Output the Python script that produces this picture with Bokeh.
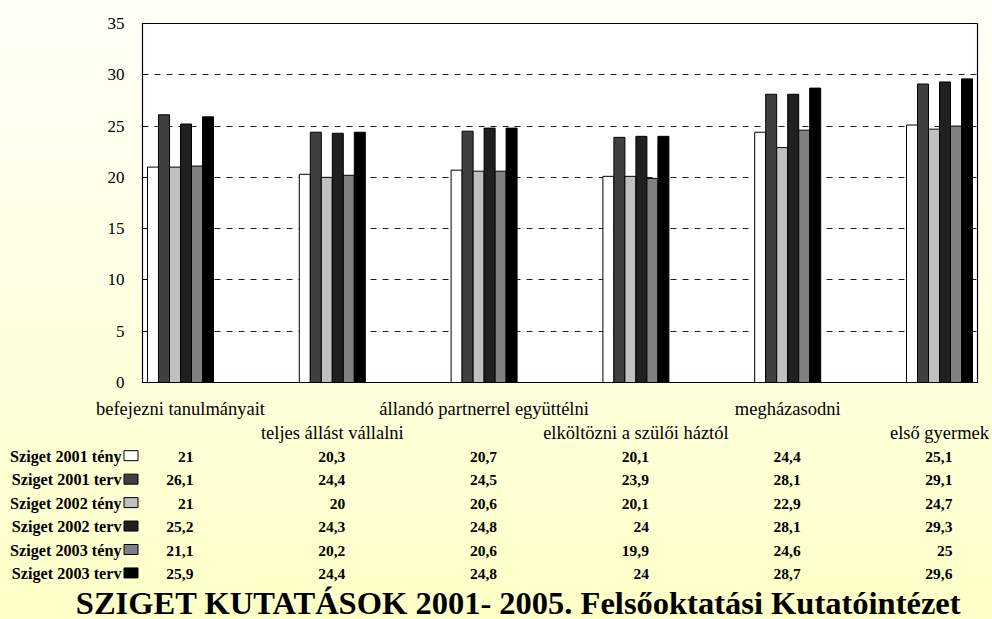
from bokeh.plotting import figure
from bokeh.models import Range1d, FixedTicker, ColumnDataSource, GlobalInlineStyleSheet
from bokeh.embed import file_html
from bokeh.resources import INLINE
from bokeh.core.properties import value

# ---------------- data ----------------
categories = ["befejezni tanulmányait", "teljes állást vállalni",
              "állandó partnerrel együttélni", "elköltözni a szülői háztól",
              "megházasodni", "első gyermek"]
series_names = ["Sziget 2001 tény", "Sziget 2001 terv", "Sziget 2002 tény",
                "Sziget 2002 terv", "Sziget 2003 tény", "Sziget 2003 terv"]
s2001_teny = [21, 20.3, 20.7, 20.1, 24.4, 25.1]
s2001_terv = [26.1, 24.4, 24.5, 23.9, 28.1, 29.1]
s2002_teny = [21, 20, 20.6, 20.1, 22.9, 24.7]
s2002_terv = [25.2, 24.3, 24.8, 24, 28.1, 29.3]
s2003_teny = [21.1, 20.2, 20.6, 19.9, 24.6, 25]
s2003_terv = [25.9, 24.4, 24.8, 24, 28.7, 29.6]
y_ticks = [0, 5, 10, 15, 20, 25, 30, 35]
title_text = "SZIGET KUTATÁSOK 2001- 2005. Felsőoktatási Kutatóintézet"

series_values = [s2001_teny, s2001_terv, s2002_teny, s2002_terv, s2003_teny, s2003_terv]
series_colors = ["#FFFFFF", "#404040", "#C0C0C0", "#202020", "#808080", "#000000"]

FONT = value("Liberation Serif")
W = 992
STEP = 151.8          # px per category
ORIGIN = 147          # px of first group's left edge
GW = 66 / STEP        # group width in data units
BW = GW / 6
n = len(categories)

def fmt(v):
    return f"{v:g}".replace(".", ",")

# ---------------- main chart ----------------
A_H = 445
FL, FR, FT, FB = 142, 977, 23, 385
p = figure(width=W, height=A_H, output_backend="svg", toolbar_location=None,
           x_range=Range1d((FL - ORIGIN) / STEP, (FR - ORIGIN) / STEP),
           y_range=Range1d(0, 35),
           min_border_left=FL, min_border_right=W - FR,
           min_border_top=FT, min_border_bottom=A_H - FB)
p.background_fill_color = "#FFFFFF"
p.border_fill_color = None
p.outline_line_color = "#000000"
p.outline_line_width = 1.2

for k, vals in enumerate(series_values):
    src = ColumnDataSource(dict(x=[i + (k + 0.5) * BW for i in range(n)], top=vals))
    p.vbar(x="x", top="top", width=BW, bottom=0, source=src,
           fill_color=series_colors[k], line_color="#000000", line_width=1)

p.xgrid.visible = False
p.ygrid.ticker = FixedTicker(ticks=y_ticks)
p.ygrid.grid_line_color = "#202020"
p.ygrid.grid_line_dash = "6 6"
p.ygrid.grid_line_width = 1

ya = p.yaxis[0]
ya.ticker = FixedTicker(ticks=y_ticks)
ya.major_label_text_font = "Liberation Serif"
ya.major_label_text_font_size = "17px"
ya.major_label_text_color = "#000000"
ya.major_tick_in = 5
ya.major_tick_out = 0
ya.minor_tick_line_color = None
ya.axis_line_color = "#000000"
ya.major_tick_line_color = "#000000"
ya.major_label_standoff = 18

centers = [i + GW / 2 for i in range(n)]
xa = p.xaxis[0]
xa.ticker = FixedTicker(ticks=centers)
xa.major_label_overrides = {c: (lab if i % 2 == 0 else "\n" + lab)
                            for i, (c, lab) in enumerate(zip(centers, categories))}
xa.major_label_text_font = "Liberation Serif"
xa.major_label_text_font_size = "18.5px"
xa.major_label_text_color = "#000000"
xa.major_tick_in = 0
xa.major_tick_out = 0
xa.minor_tick_line_color = None
xa.axis_line_color = "#000000"
xa.axis_line_width = 1.2
xa.major_label_standoff = 16

css = ("html { background: linear-gradient(to bottom, #FFFFF8 0%, #FFFFE4 45%, #FFFFC8 100%); "
       "min-height: 100%; } body { background: transparent; }")
p.stylesheets = [GlobalInlineStyleSheet(css=css)]

# ---------------- data table + title ----------------
B_H = 619 - A_H
p2 = figure(width=W, height=B_H, output_backend="svg", toolbar_location=None,
            x_range=Range1d((0 - ORIGIN) / STEP, (W - ORIGIN) / STEP),
            y_range=Range1d(B_H, 0),
            x_axis_type=None, y_axis_type=None,
            min_border=0, min_border_left=0, min_border_right=0,
            min_border_top=0, min_border_bottom=0)
p2.background_fill_color = None
p2.border_fill_color = None
p2.outline_line_color = None
p2.xgrid.visible = False
p2.ygrid.visible = False

ROW0, ROWH = 11.2, 23.45
vx, vy, vt = [], [], []
for k, vals in enumerate(series_values):
    for i, v in enumerate(vals):
        vx.append(i + 0.303)
        vy.append(ROW0 + k * ROWH)
        vt.append(fmt(v))
p2.text(x="x", y="y", text="t", source=ColumnDataSource(dict(x=vx, y=vy, t=vt)),
        text_font=FONT, text_font_style="bold", text_font_size="15.5px",
        text_align="right", text_baseline="middle", text_color="#000000")

ly = [ROW0 + k * ROWH for k in range(len(series_names))]
p2.text(x=[(121 - ORIGIN) / STEP] * len(series_names), y=ly, text=series_names,
        text_font=FONT, text_font_style="bold", text_font_size="16.2px",
        text_align="right", text_baseline="middle", text_color="#000000")
p2.rect(x=[(130.5 - ORIGIN) / STEP] * len(series_names), y=[v - 1 for v in ly],
        width=14, height=10, width_units="screen", height_units="screen",
        fill_color=series_colors, line_color="#000000", line_width=1)

p2.text(x=[(518 - ORIGIN) / STEP], y=[157], text=[title_text],
        text_font=FONT, text_font_style="bold", text_font_size="32.5px",
        text_align="center", text_baseline="middle", text_color="#000000")

open("out.html", "w").write(file_html([p, p2], INLINE))
